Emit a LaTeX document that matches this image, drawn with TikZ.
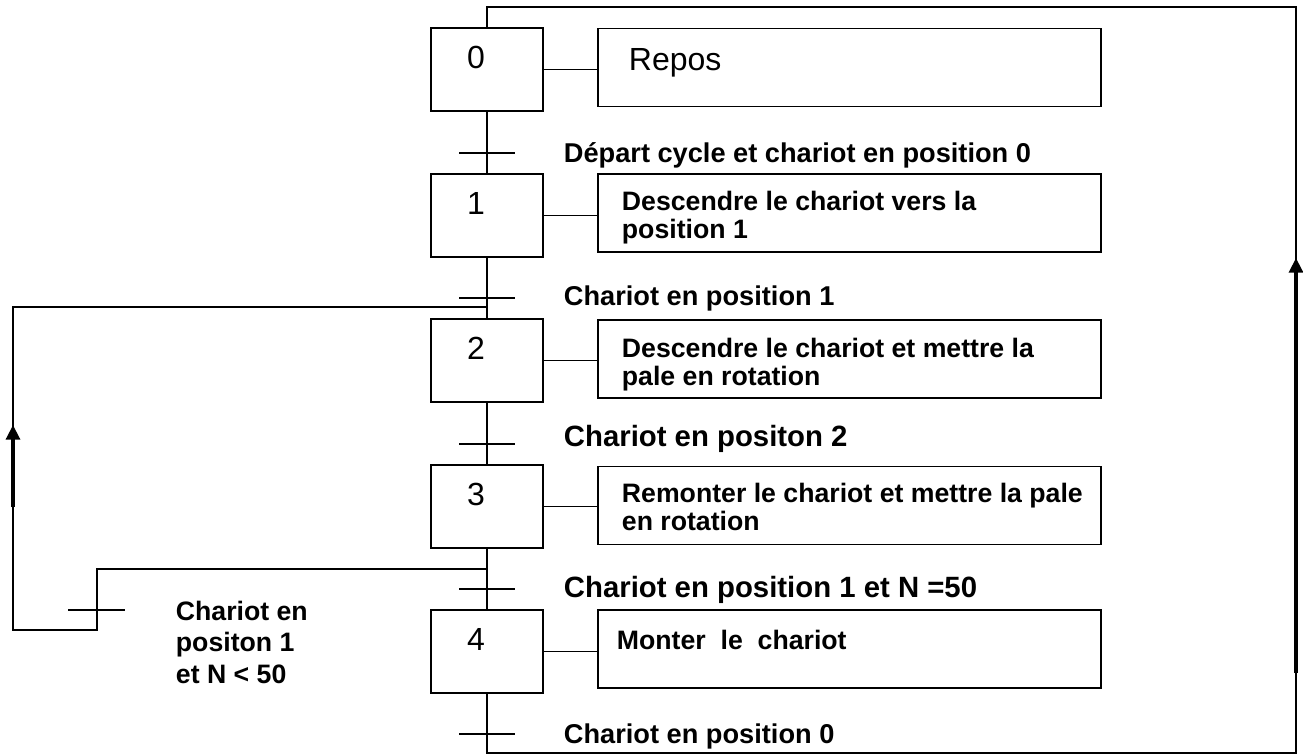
\documentclass[tikz,border=0pt]{standalone}
\usepackage{fontspec}
\setmainfont{Liberation Sans}
\usetikzlibrary{arrows.meta,calc}
\tikzset{
  stepbox/.style={draw, line width=1.4pt, minimum width=84pt, minimum height=62.25pt, inner sep=0pt},
  actbox/.style={draw, line width=1.4pt, minimum width=377.25pt, minimum height=58.5pt, inner sep=0pt},
  num/.style={font=\fontsize{24}{28}\selectfont, inner sep=0pt, anchor=center},
  acttxt/.style={font=\fontsize{20}{21.5}\selectfont\bfseries, align=left, inner sep=0pt, anchor=north west},
  trsmall/.style={font=\fontsize{20.4}{24}\selectfont\bfseries, inner sep=0pt, anchor=base west},
  trbig/.style={font=\fontsize{22}{26}\selectfont\bfseries, inner sep=0pt, anchor=base west},
  link/.style={line width=1.4pt},
  bigarrow/.style={line width=2.4pt, -{Triangle[width=10.5pt,length=11pt]}},
}
\begin{document}
\begin{tikzpicture}[x=0.75pt,y=-0.75pt, line width=1.4pt]
\useasboundingbox (0,0) rectangle (1303,756);

% steps
\node[stepbox] (s0) at (487,69.5) {};
\node[stepbox] (s1) at (487,215.5) {};
\node[stepbox] (s2) at (487,360.5) {};
\node[stepbox] (s3) at (487,506.5) {};
\node[stepbox] (s4) at (487,651.5) {};

\node[num] (n0) at (476,57) {0};
\node[num] (n1) at (476,203) {1};
\node[num] (n2) at (476,348) {2};
\node[num] (n3) at (476,494) {3};
\node[num] (n4) at (476,639) {4};

% action boxes
\node[actbox] (a0) at (849.5,67.5) {};
\node[actbox] (a1) at (849.5,213) {};
\node[actbox] (a2) at (849.5,359) {};
\node[actbox] (a3) at (849.5,505.5) {};
\node[actbox] (a4) at (849.5,649) {};

\node[font=\fontsize{24}{28}\selectfont, inner sep=0pt, anchor=base west] (r0) at (628,71) {Repos};
\node[acttxt] (r1) at (621,190) {Descendre le chariot vers la\\position 1};
\node[acttxt] (r2) at (621,337) {Descendre le chariot et mettre la\\pale en rotation};
\node[acttxt] (r3) at (621,482) {Remonter le chariot et mettre la pale\\en rotation};
\node[acttxt] (r4) at (616,629) {Monter\ \ le\ \ chariot};

% links step -> action
\foreach \i in {0,...,4} {
  \draw[link] (s\i.east) -- (s\i.east -| a\i.west);
}

% main vertical line
\draw (s0.south) -- (s1.north);
\draw (s1.south) -- (s2.north);
\draw (s2.south) -- (s3.north);
\draw (s3.south) -- (s4.north);

% transitions
\coordinate (t0) at (487,153);
\coordinate (t1) at (487,298);
\coordinate (t2) at (487,444);
\coordinate (t3) at (487,589);
\coordinate (t4) at (487,734);
\foreach \t in {t0,t1,t2,t3,t4} {
  \draw ($(\t)+(-28,0)$) -- ($(\t)+(28,0)$);
}

\node[trsmall] (l0) at (563,162.5) {Départ cycle et chariot en position 0};
\node[trsmall] (l1) at (563,305.5) {Chariot en position 1};
\node[trbig] (l2) at (563,446.5) {Chariot en positon 2};
\node[trbig] (l3) at (563,597.5) {Chariot en position 1 et N =50};
\node[trsmall] (l4) at (563,743.5) {Chariot en position 0};

% outer loop: step 4 back to step 0
\coordinate (tr) at (1296,7);
\coordinate (br) at (1296,753);
\draw (s4.south) -- (s4.south |- br) -- (br) -- (tr) -- (s0.north |- tr) -- (s0.north);
\coordinate (ra0) at (1296,673);
\coordinate (ra1) at (1296,258);
\draw[bigarrow] (ra0) -- (ra1);

% inner loop: after step 3 back to step 2
\coordinate (j3) at (487,569);
\coordinate (j1) at (487,307);
\coordinate (c1) at (97,569);
\coordinate (c2) at (97,630);
\coordinate (c3) at (13,630);
\coordinate (c4) at (13,307);
\draw (j3) -- (c1) -- (c2) -- (c3) -- (c4) -- (j1);
\coordinate (tl) at (97,610);
\draw ($(tl)+(-29,0)$) -- ($(tl)+(28,0)$);
\coordinate (la0) at (13,507);
\coordinate (la1) at (13,425);
\draw[bigarrow] (la0) -- (la1);

\node[font=\fontsize{20}{23.6}\selectfont\bfseries, align=left, inner sep=0pt, anchor=north west] (lt) at (175,600) {Chariot en\\positon 1\\et N < 50};
\end{tikzpicture}
\end{document}
